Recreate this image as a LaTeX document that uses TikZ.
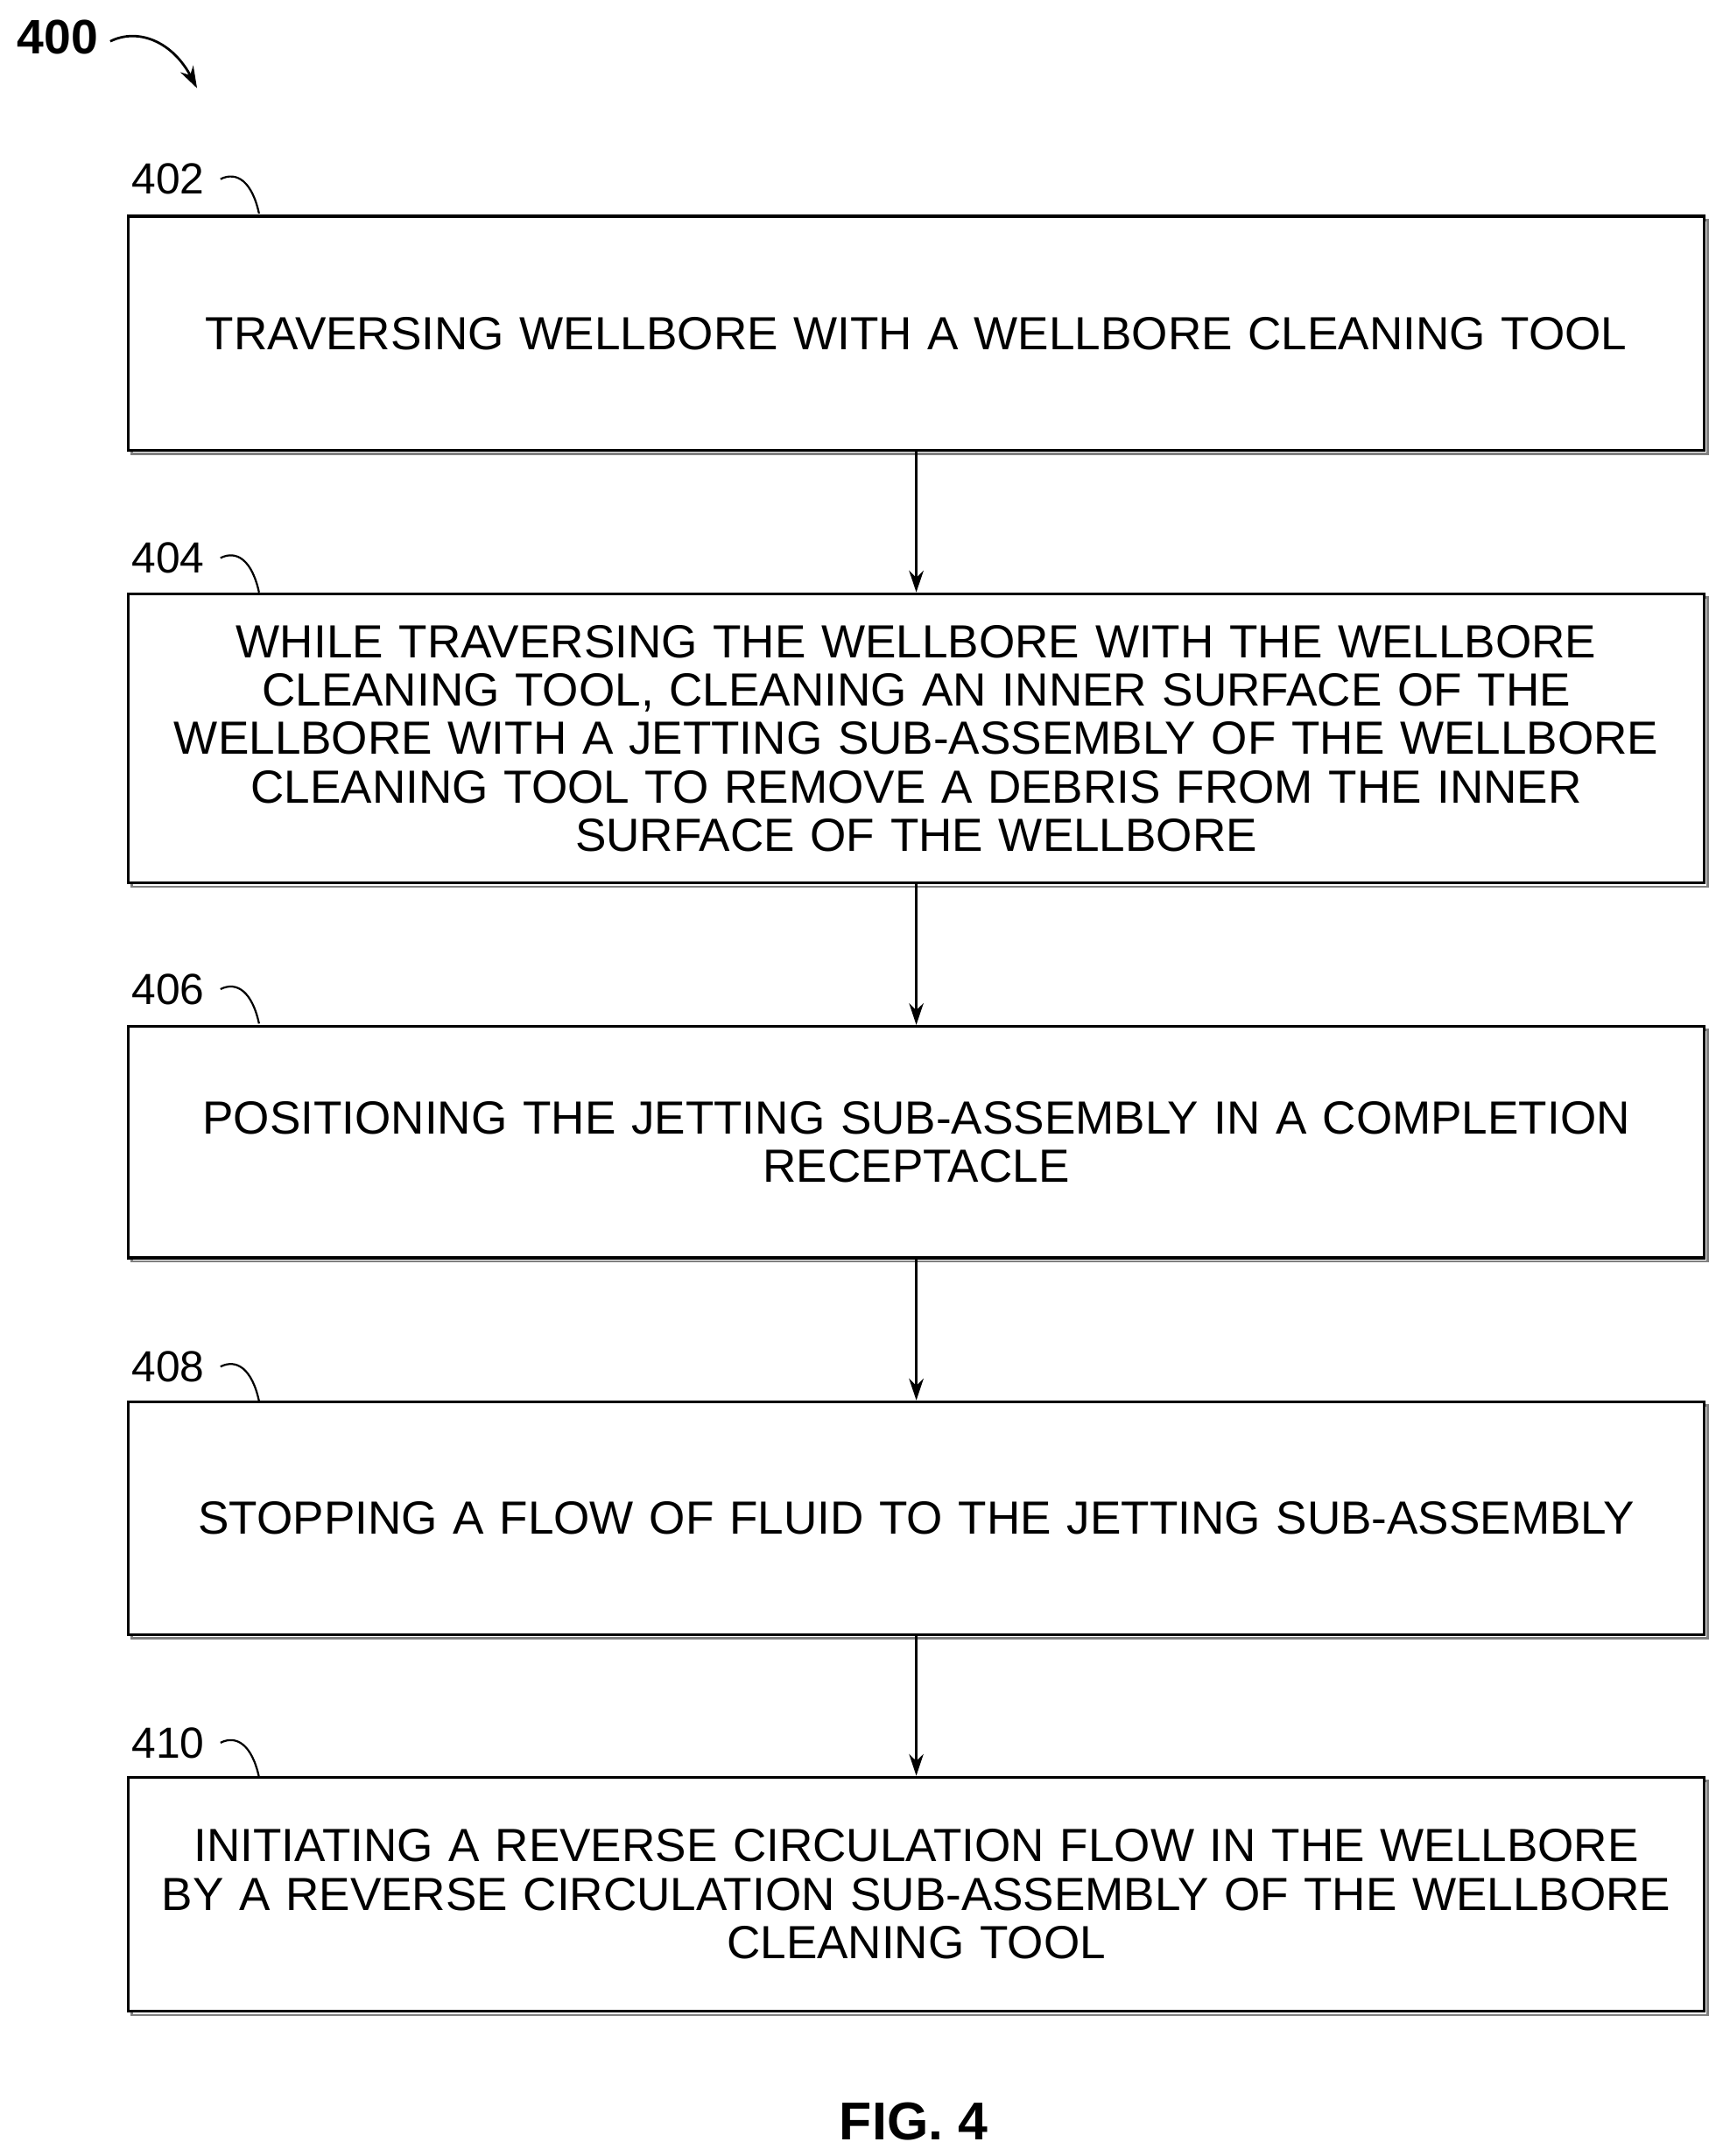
\documentclass[tikz,border=0pt]{standalone}
\usepackage{fontspec}
\setmainfont{Liberation Sans}
\usetikzlibrary{arrows.meta,calc,shadows}

\begin{document}
\begin{tikzpicture}[x=0.02cm,y=-0.02cm,>={Stealth[length=9pt,width=6pt]},
  step box/.style={draw,line width=1.2pt,minimum width=22.88cm,align=center,
    text width=22.6cm,font=\fontsize{19.2}{20}\selectfont,inner sep=0pt,fill=white,
    copy shadow={shadow xshift=1.5pt,shadow yshift=-1.5pt,draw=gray,line width=1pt}},
  ref label/.style={font=\fontsize{18}{20}\selectfont}]
\useasboundingbox (0,0) rectangle (1250,1565);

% title reference
\node[font=\bfseries\fontsize{20}{22}\selectfont] (fig) at (42,27) {400};
\draw[->,line width=1pt] (80,30) .. controls (100,20) and (125,30) .. (143,64);

% steps
\node[step box,minimum height=3.4cm] (s402) at (665,242) {TRAVERSING WELLBORE WITH A WELLBORE CLEANING TOOL};
\node[step box,minimum height=4.2cm] (s404) at (665,536) {WHILE TRAVERSING THE WELLBORE WITH THE WELLBORE\\ CLEANING TOOL, CLEANING AN INNER SURFACE OF THE\\ WELLBORE WITH A JETTING SUB-ASSEMBLY OF THE WELLBORE\\ CLEANING TOOL TO REMOVE A DEBRIS FROM THE INNER\\ SURFACE OF THE WELLBORE};
\node[step box,minimum height=3.36cm] (s406) at (665,829) {POSITIONING THE JETTING SUB-ASSEMBLY IN A COMPLETION\\ RECEPTACLE};
\node[step box,minimum height=3.38cm] (s408) at (665,1102) {STOPPING A FLOW OF FLUID TO THE JETTING SUB-ASSEMBLY};
\node[step box,minimum height=3.4cm] (s410) at (665,1375) {INITIATING A REVERSE CIRCULATION FLOW IN THE WELLBORE\\ BY A REVERSE CIRCULATION SUB-ASSEMBLY OF THE WELLBORE\\ CLEANING TOOL};

% reference numerals
\foreach \n/\y in {402/130,404/405,406/718,408/992,410/1265}{
  \node[ref label] (l\n) at (122,\y) {\n};
  \draw[line width=0.8pt] (160,\y) .. controls (172,\y-6) and (183,\y+2) .. (188,\y+25);
}

% connectors
\foreach \a/\b in {s402/s404,s404/s406,s406/s408,s408/s410}
  \draw[->,line width=0.8pt] (\a.south) -- (\b.north);

\node[font=\bfseries\fontsize{22}{24}\selectfont] (cap) at (663,1540) {FIG. 4};
\end{tikzpicture}
\end{document}
